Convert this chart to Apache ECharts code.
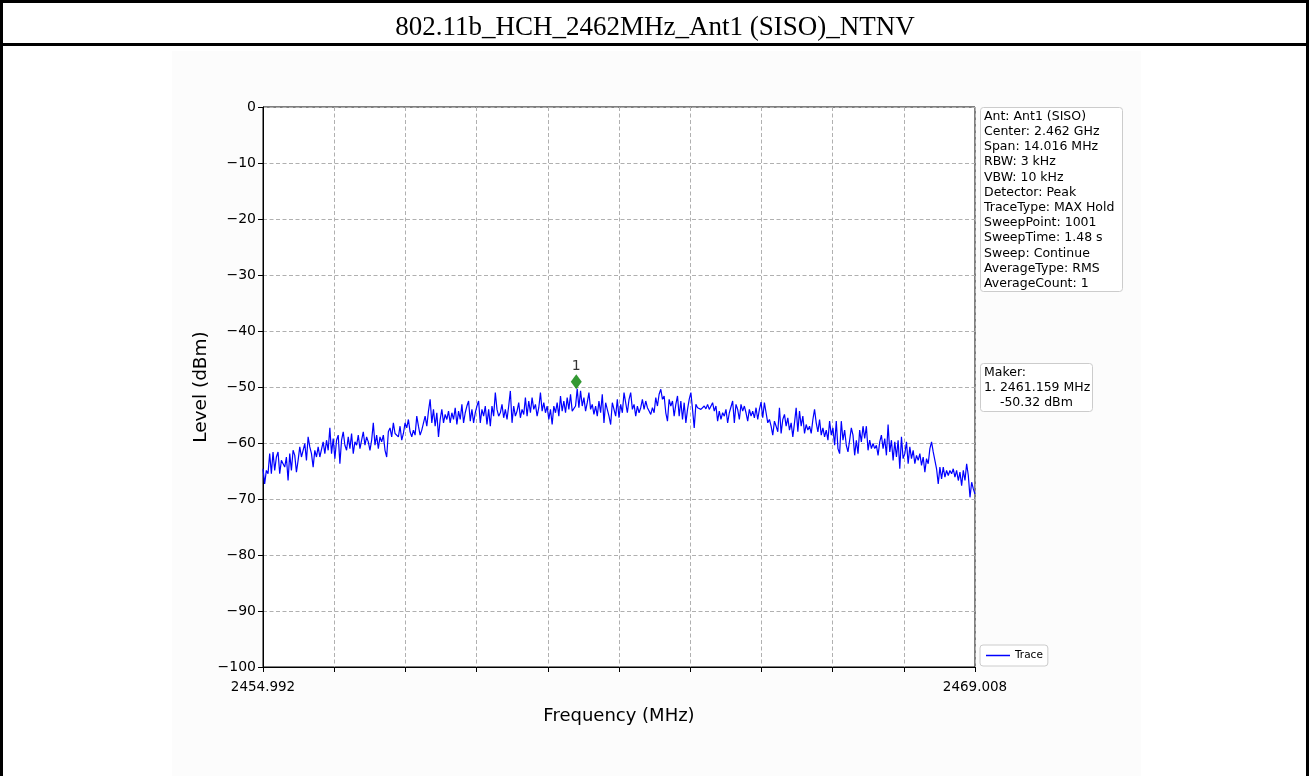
<!DOCTYPE html>
<html>
<head>
<meta charset="utf-8">
<script src="https://cdn.jsdelivr.net/npm/echarts@6/dist/echarts.min.js"></script>
<style>
  html, body { margin: 0; padding: 0; background: #fff; }
  #chart { width: 1310px; height: 776px; }
</style>
</head>
<body>
<div id="chart"></div>
<script>
// ---------- data ----------
const chartTitle = '802.11b_HCH_2462MHz_Ant1 (SISO)_NTNV';
const freqStart = 2454.992;   // MHz
const freqStop = 2469.008;    // MHz
const xTickLabels = ['2454.992', '2469.008'];
const yMin = -100, yMax = 0, yStep = 10;

// trace levels (dBm), read left to right across the span
const levelsSeg1 = [
  -64.6,-67.3,-64.9,-65.5,-61.9,-65.5,-61.6,-64.9,-62.5,-61.6,
  -65.5,-63.1,-63.7,-64.3,-62.5,-66.7,-61.9,-64.9,-61.3,-62.2,
  -65.2,-63.1,-60.7,-62.5,-61.3,-60.1,-63.1,-58.9,-60.7,-61.9,
  -64.3,-61.3,-62.5,-60.7,-62.5,-62.5,-59.8,-61.9,-59.5,-61.3,
  -57.3,-61.9,-59.2,-62.8,-59.5,-58.6,-63.7,-59.5,-58.0,-60.4,
  -61.3,-58.9,-61.0,-58.3,-61.9,-59.8,-60.4,-58.6,-61.0,-59.5,
  -58.0,-60.4,-58.9,-59.8,-61.3,-59.5,-56.4,-60.4,-58.6,-61.0
];
const levelsSeg2 = [
  -58.9,-59.8,-58.6,-61.3,-62.5,-58.0,-57.3,-58.9,-56.4,-58.3,
  -58.0,-58.9,-57.0,-59.5,-58.3,-56.4,-57.3,-55.8,-58.0,-58.9,
  -57.7,-58.6,-55.2,-57.0,-58.6,-57.7,-58.0,-55.2,-57.0,-54.3,
  -52.2,-56.4,-54.0,-57.0,-54.6,-58.9,-55.8,-54.0,-56.4,-54.9,
  -55.8,-54.3,-56.4,-54.6,-55.8,-53.7,-56.7,-54.3,-55.8,-53.1,
  -56.4,-54.6,-53.4,-52.5,-56.1,-54.0,-56.4,-54.6,-53.4,-52.5,
  -56.4,-54.0,-55.2,-53.4,-56.7,-54.0,-57.0,-53.4,-55.2,-51.0
];
const levelsSeg3 = [
  -54.0,-55.2,-54.6,-53.1,-55.5,-54.0,-55.8,-53.4,-50.7,-56.4,
  -53.4,-55.2,-54.3,-52.8,-55.5,-54.0,-54.9,-51.9,-55.2,-52.5,
  -54.6,-51.9,-54.0,-53.1,-55.2,-53.7,-51.0,-54.3,-52.8,-54.6,
  -53.4,-55.8,-54.0,-56.7,-53.4,-54.6,-52.8,-55.2,-51.6,-54.3,
  -52.5,-54.6,-51.9,-54.0,-51.3,-54.3,-54.0,-53.4,-50.32,-53.7,
  -50.7,-53.4,-51.9,-54.3,-52.8,-51.0,-54.0,-53.1,-54.9,-53.4,
  -55.2,-52.5,-54.6,-51.3,-56.4,-52.8,-54.0,-55.2,-56.7,-52.8
];
const levelsSeg4 = [
  -52.8,-55.2,-52.2,-55.5,-53.1,-54.6,-51.0,-50.7,-54.6,-52.2,
  -51.0,-54.0,-53.1,-55.2,-53.4,-54.6,-53.7,-52.2,-54.0,-52.5,
  -53.7,-54.3,-54.9,-53.7,-54.6,-51.9,-53.4,-51.3,-50.4,-52.2,
  -51.6,-54.6,-56.1,-52.2,-53.4,-52.5,-55.2,-53.1,-51.6,-55.2,
  -52.5,-55.8,-52.8,-56.4,-54.0,-52.2,-51.0,-54.0,-57.3,-53.1,
  -53.7,-53.4,-54.0,-53.7,-53.4,-53.9,-53.1,-54.0,-53.7,-52.8,
  -54.3,-53.4,-56.1,-54.3,-55.8,-54.6,-55.2,-54.0,-56.4,-54.6
];
const levelsSeg5 = [
  -54.6,-52.5,-56.4,-53.1,-54.0,-55.8,-53.1,-54.3,-53.4,-54.6,
  -56.1,-54.0,-55.2,-54.3,-55.5,-53.7,-55.8,-54.0,-52.7,-55.5,
  -52.8,-54.6,-56.4,-55.8,-57.0,-58.6,-56.1,-57.0,-58.0,-53.7,
  -58.3,-55.8,-54.9,-57.0,-55.5,-57.7,-56.4,-58.9,-56.4,-53.7,
  -58.0,-54.3,-57.0,-55.2,-58.3,-56.7,-57.7,-57.0,-58.3,-55.8,
  -54.0,-56.4,-58.0,-55.8,-58.6,-57.3,-58.9,-57.7,-59.5,-56.1,
  -58.6,-57.3,-60.4,-56.1,-61.0,-61.9,-56.1,-59.5,-57.7,-60.4
];
const levelsSeg6 = [
  -61.6,-59.5,-57.3,-58.6,-62.2,-59.5,-61.9,-57.7,-59.8,-57.0,
  -59.2,-57.0,-61.3,-59.5,-61.0,-60.1,-61.0,-60.4,-62.2,-59.8,
  -58.6,-61.0,-59.2,-62.2,-56.7,-61.6,-59.5,-63.1,-59.8,-62.5,
  -59.5,-64.6,-58.9,-62.8,-61.9,-59.8,-63.7,-60.7,-62.8,-61.3,
  -63.7,-62.2,-63.1,-61.9,-64.0,-62.5,-65.2,-62.8,-63.7,-61.0,
  -59.8,-61.6,-63.1,-64.6,-67.3,-64.3,-66.4,-64.3,-66.1,-64.9,
  -65.8,-64.9,-65.5,-64.6,-66.1,-64.9,-66.7,-65.2,-67.6,-64.9,
  -66.7,-63.7,-65.8,-69.7,-67.0,-68.2,-69.1
];

const markerFreq = 2461.159;   // MHz
const markerLevel = -50.32;    // dBm
const markerName = '1';

const infoLines = [
  'Ant: Ant1 (SISO)', 'Center: 2.462 GHz', 'Span: 14.016 MHz', 'RBW: 3 kHz',
  'VBW: 10 kHz', 'Detector: Peak', 'TraceType: MAX Hold', 'SweepPoint: 1001',
  'SweepTime: 1.48 s', 'Sweep: Continue', 'AverageType: RMS', 'AverageCount: 1'
];
const makerLines = ['Maker:', '1. 2461.159 MHz', '    -50.32 dBm'];
const legendName = 'Trace';

// ---------- build ----------
const levels = [].concat(levelsSeg1, levelsSeg2, levelsSeg3, levelsSeg4, levelsSeg5, levelsSeg6);
const nPts = levels.length;
const traceData = levels.map((v, i) => [freqStart + i * (freqStop - freqStart) / (nPts - 1), v]);
const nDiv = 10;

const SANS = '"DejaVu Sans", Verdana, sans-serif';
const gridLine = { show: true, lineStyle: { color: '#b0b0b0', width: 1, type: [4, 2.5] } };

const chart = echarts.init(document.getElementById('chart'), null, { renderer: 'canvas' });
chart.setOption({
  animation: false,
  backgroundColor: '#ffffff',
  textStyle: { fontFamily: SANS },
  title: {
    text: chartTitle,
    left: 'center',
    top: 9,
    textStyle: { fontFamily: '"Liberation Serif", "Times New Roman", serif', fontSize: 27, fontWeight: 'normal', color: '#000' }
  },
  graphic: [
    { type: 'rect', z: -10, silent: true, shape: { x: 172, y: 51, width: 969, height: 740 }, style: { fill: '#fcfcfc' } },
    { type: 'rect', z: 100, silent: true, shape: { x: 1.5, y: 1.5, width: 1306, height: 800 }, style: { fill: 'none', stroke: '#000', lineWidth: 3 } },
    { type: 'line', z: 100, silent: true, shape: { x1: 1.5, y1: 44.5, x2: 1308, y2: 44.5 }, style: { stroke: '#000', lineWidth: 3 } },
    { type: 'rect', z: 50, silent: true, shape: { x: 980.5, y: 107.5, width: 142, height: 184, r: 3 }, style: { fill: '#fff', stroke: '#cccccc', lineWidth: 1 } },
    { type: 'text', z: 51, silent: true, left: 984, top: 109, style: { text: infoLines.join('\n'), font: '12.5px ' + SANS, lineHeight: 15.2, fill: '#000' } },
    { type: 'rect', z: 50, silent: true, shape: { x: 980.5, y: 363.5, width: 112, height: 48, r: 3 }, style: { fill: '#fff', stroke: '#cccccc', lineWidth: 1 } },
    { type: 'text', z: 51, silent: true, left: 984, top: 365, style: { text: makerLines.join('\n'), font: '12.5px ' + SANS, lineHeight: 15.2, fill: '#000' } }
  ],
  legend: {
    data: [legendName],
    left: 980,
    top: 645,
    orient: 'vertical',
    backgroundColor: '#fff',
    borderColor: '#cccccc',
    borderWidth: 1,
    borderRadius: 3,
    padding: [5, 5, 5, 6],
    icon: 'rect',
    itemWidth: 24,
    itemHeight: 1.5,
    itemGap: 6,
    textStyle: { fontSize: 10.5, color: '#000', fontFamily: SANS }
  },
  grid: { left: 263, top: 107, width: 712, height: 560, show: true, borderColor: '#000', borderWidth: 1, backgroundColor: '#fff' },
  xAxis: [
    { type: 'value', min: freqStart, max: freqStop, show: false },
    {
      type: 'value', min: 0, max: nDiv, interval: 1, position: 'bottom',
      axisLine: { show: true, onZero: false, lineStyle: { color: '#000', width: 1 } },
      axisTick: { show: true, length: 5, lineStyle: { color: '#000' } },
      axisLabel: {
        showMinLabel: true, showMaxLabel: true, margin: 13, fontSize: 13.5, color: '#000', fontFamily: SANS,
        formatter: v => (v === 0 ? xTickLabels[0] : (v === nDiv ? xTickLabels[1] : ''))
      },
      splitLine: gridLine,
      name: 'Frequency (MHz)', nameLocation: 'middle', nameGap: 40,
      nameTextStyle: { fontSize: 18, color: '#000', fontFamily: SANS }
    }
  ],
  yAxis: {
    type: 'value', min: yMin, max: yMax, interval: yStep,
    axisLine: { show: true, onZero: false, lineStyle: { color: '#000', width: 1 } },
    axisTick: { show: true, length: 5, lineStyle: { color: '#000' } },
    axisLabel: { margin: 7, fontSize: 14, color: '#000', fontFamily: SANS, formatter: v => String(v).replace('-', '\u2212') },
    splitLine: gridLine,
    name: 'Level (dBm)', nameLocation: 'middle', nameGap: 52, nameMoveOverlap: false,
    nameTextStyle: { fontSize: 18.5, color: '#000', fontFamily: SANS }
  },
  series: [
    {
      name: legendName, type: 'line', xAxisIndex: 0, data: traceData,
      showSymbol: false, symbol: 'none', lineStyle: { color: '#0000ff', width: 1.2 }, itemStyle: { color: '#0000ff' },
      z: 3
    },
    {
      name: 'marker', type: 'scatter', xAxisIndex: 0,
      data: [[markerFreq, markerLevel]],
      symbol: 'diamond', symbolSize: [11, 15], symbolOffset: [0, -7],
      itemStyle: { color: '#007f00' },
      label: { show: true, position: 'top', distance: 1, formatter: markerName, fontSize: 14, color: '#000', fontFamily: SANS },
      z: 5
    }
  ]
});
</script>
</body>
</html>
